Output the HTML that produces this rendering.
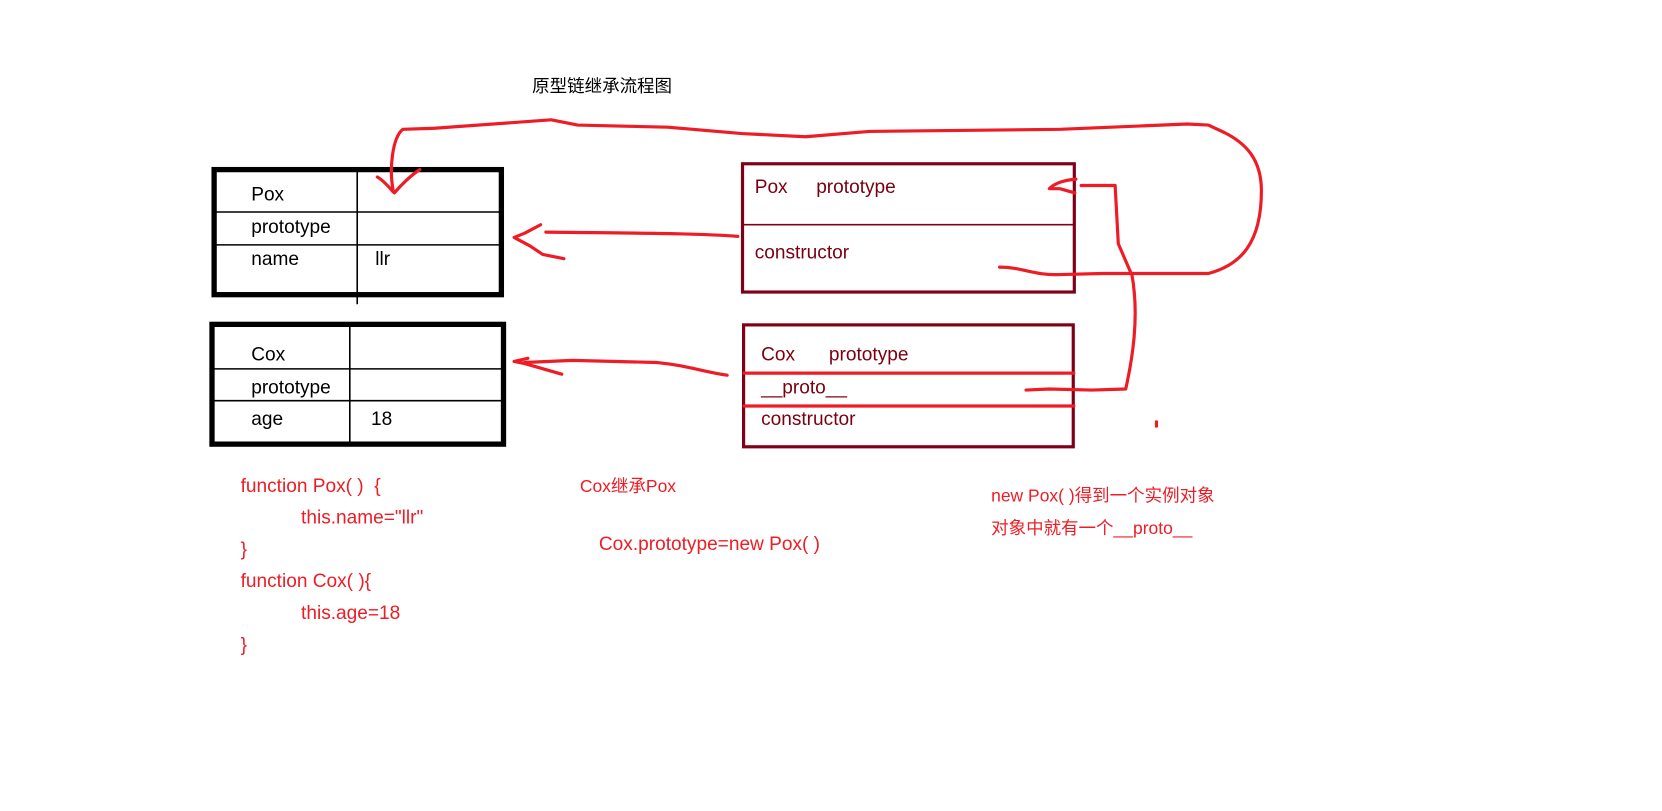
<!DOCTYPE html>
<html><head><meta charset="utf-8"><style>
body{margin:0;width:1662px;height:811px;background:#fff;position:relative;overflow:hidden;font-family:"Liberation Sans","Noto Sans CJK SC",sans-serif}
#w{position:absolute;left:0;top:0;width:1568px;height:765px;transform:scale(1.06);transform-origin:0 0}
.t{position:absolute;font-size:18px;white-space:nowrap;line-height:1}
.k{color:#000}.d{color:#7a0010}.r{color:#ee1c24}
</style></head><body><div id="w">
<svg width="1568" height="765" style="position:absolute;left:0;top:0">
<g fill="none" stroke="#000">
<rect x="202" y="160" width="271" height="118" stroke-width="5"/>
<line x1="337" y1="160" x2="337" y2="287" stroke-width="1.5"/>
<line x1="202" y1="200" x2="473" y2="200" stroke-width="1.5"/>
<line x1="202" y1="231" x2="473" y2="231" stroke-width="1.5"/>
<rect x="200" y="306" width="275" height="113" stroke-width="5"/>
<line x1="330" y1="306" x2="330" y2="419" stroke-width="1.5"/>
<line x1="200" y1="348" x2="475" y2="348" stroke-width="1.5"/>
<line x1="200" y1="378" x2="475" y2="378" stroke-width="1.5"/>
</g>
<g fill="none" stroke="#800018">
<rect x="700.5" y="154.5" width="313" height="121" stroke-width="3"/>
<line x1="700" y1="212" x2="1014" y2="212" stroke-width="1.5"/>
<rect x="701.5" y="306.5" width="311" height="115" stroke-width="3"/>
</g>
<g fill="none" stroke="#ee1c24" stroke-width="3" stroke-linecap="round" stroke-linejoin="round">
<line x1="702" y1="352" x2="1013" y2="352"/>
<line x1="702" y1="383" x2="1013" y2="383"/>
<path d="M943,252 C965,252 975,260 1000,259 L1040,258 L1140,258 C1170,250 1190,230 1190,180 C1190,150 1175,135 1155,125 L1140,118 L1120,117 L1000,122 L820,124 L760,129 L700,126 L630,120 L545,118 L520,113 L410,121 L380,122 C370,130 367,160 371,180"/>
<path d="M356,167 C362,170 368,178 372,182 C378,175 388,165 396,160"/>
<path d="M696,223 C660,220 600,220 515,219"/>
<path d="M510,212 L495,220 L485,224 L500,232 L512,240 L532,244"/>
<path d="M686,354 C660,350 650,345 620,342 L540,340 L495,342"/>
<path d="M530,353 L495,343 L485,341 L498,338"/>
<path d="M968,368 L990,367 L1030,368 L1062,367 C1068,340 1075,300 1068,260 L1055,230 L1052,175 L1020,175"/>
<path d="M1015,169 C1005,170 996,172 990,178 L1000,178 L1014,182"/>
<line x1="1091" y1="398" x2="1091" y2="402"/>
</g>
</svg>
<div class="t k" style="left:502px;top:74px;font-size:16.5px">原型链继承流程图</div>
<div class="t k" style="left:237px;top:174px">Pox</div>
<div class="t k" style="left:237px;top:205px">prototype</div>
<div class="t k" style="left:237px;top:235px">name</div>
<div class="t k" style="left:354px;top:235px">llr</div>
<div class="t k" style="left:237px;top:325px">Cox</div>
<div class="t k" style="left:237px;top:356px">prototype</div>
<div class="t k" style="left:237px;top:386px">age</div>
<div class="t k" style="left:350px;top:386px">18</div>
<div class="t d" style="left:712px;top:167px">Pox</div>
<div class="t d" style="left:770px;top:167px">prototype</div>
<div class="t d" style="left:712px;top:229px">constructor</div>
<div class="t d" style="left:718px;top:325px">Cox</div>
<div class="t d" style="left:782px;top:325px">prototype</div>
<div class="t d" style="left:718px;top:356px">__proto__</div>
<div class="t d" style="left:718px;top:386px">constructor</div>
<div class="t r" style="left:227px;top:449px">function Pox( )&nbsp; {</div>
<div class="t r" style="left:284px;top:479px">this.name="llr"</div>
<div class="t r" style="left:227px;top:509px">}</div>
<div class="t r" style="left:227px;top:539px">function Cox( ){</div>
<div class="t r" style="left:284px;top:569px">this.age=18</div>
<div class="t r" style="left:227px;top:599px">}</div>
<div class="t r" style="left:547px;top:451px;font-size:16.5px">Cox继承Pox</div>
<div class="t r" style="left:565px;top:504px">Cox.prototype=new Pox( )</div>
<div class="t r" style="left:935px;top:460px;font-size:16.5px">new Pox( )得到一个实例对象</div>
<div class="t r" style="left:935px;top:491px;font-size:16.5px">对象中就有一个__proto__</div>
</div></body></html>
